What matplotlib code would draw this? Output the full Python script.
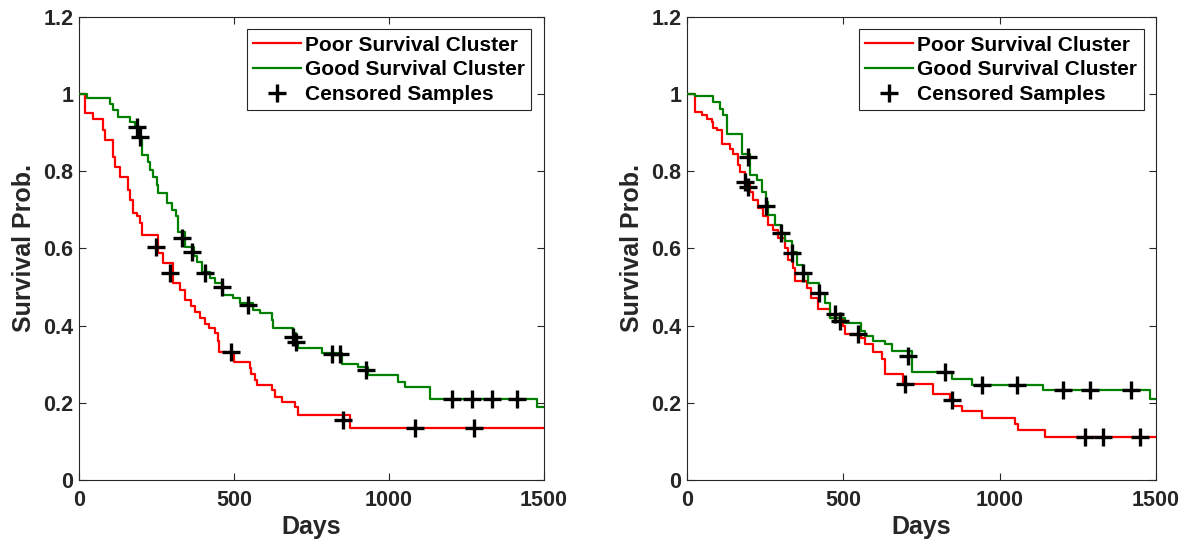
import matplotlib
matplotlib.use("Agg")
import matplotlib.pyplot as plt
from matplotlib.lines import Line2D

plt.rcParams['font.family'] = ['Liberation Sans', 'DejaVu Sans']
plt.rcParams['font.weight'] = 'bold'

# ---- left panel ----
left_poor_t = [0, 19, 46, 78, 84, 109, 116, 132, 159, 165, 175, 186, 197, 202, 256, 271, 304, 326, 342,
               360, 375, 390, 405, 420, 439, 449, 452, 500, 552, 556, 568, 575, 621, 632, 654, 697, 707, 874, 1500]
left_poor_s = [1.0, 0.95, 0.935, 0.907, 0.881, 0.838, 0.812, 0.786, 0.752, 0.726, 0.691, 0.683, 0.665, 0.635,
               0.588, 0.562, 0.51, 0.492, 0.467, 0.45, 0.435, 0.42, 0.405, 0.393, 0.38, 0.359, 0.333, 0.307,
               0.29, 0.275, 0.259, 0.246, 0.233, 0.216, 0.203, 0.19, 0.168, 0.135, 0.135]
left_good_t = [0, 25, 100, 111, 127, 165, 181, 190, 197, 202, 224, 229, 240, 251, 256, 284, 300, 312, 320,
               342, 372, 380, 396, 423, 440, 466, 498, 519, 562, 584, 621, 627, 690, 700, 707, 783, 847, 901,
               933, 1030, 1052, 1132, 1477, 1500]
left_good_s = [1.0, 0.99, 0.975, 0.96, 0.942, 0.929, 0.92, 0.907, 0.886, 0.842, 0.825, 0.804, 0.786, 0.765,
               0.743, 0.717, 0.70, 0.683, 0.644, 0.605, 0.58, 0.566, 0.54, 0.523, 0.51, 0.48, 0.471, 0.458,
               0.441, 0.432, 0.415, 0.393, 0.381, 0.355, 0.341, 0.328, 0.301, 0.294, 0.272, 0.255, 0.242,
               0.21, 0.19, 0.19]
left_cens_t = [248, 294, 489, 852, 1084, 1274,
               186, 197, 331, 363, 406, 460, 546, 690, 700, 815, 842, 926, 1202, 1267, 1331, 1414]
left_cens_s = [0.605, 0.537, 0.333, 0.155, 0.135, 0.135,
               0.915, 0.889, 0.626, 0.592, 0.536, 0.501, 0.454, 0.371, 0.358, 0.326, 0.326, 0.285,
               0.21, 0.21, 0.21, 0.21]

# ---- right panel ----
right_poor_t = [0, 26, 47, 63, 79, 84, 95, 111, 137, 148, 164, 169, 185, 201, 212, 228, 244, 260, 276, 292,
                313, 324, 340, 345, 383, 398, 420, 457, 500, 505, 558, 569, 595, 622, 633, 690, 787, 840,
                852, 878, 942, 1048, 1059, 1144, 1500]
right_poor_s = [1.0, 0.954, 0.945, 0.936, 0.928, 0.911, 0.906, 0.872, 0.859, 0.846, 0.816, 0.799, 0.773,
                0.747, 0.726, 0.704, 0.683, 0.661, 0.649, 0.627, 0.601, 0.571, 0.55, 0.515, 0.498, 0.472,
                0.442, 0.421, 0.399, 0.378, 0.369, 0.352, 0.331, 0.314, 0.275, 0.249, 0.223, 0.208, 0.193,
                0.178, 0.161, 0.144, 0.129, 0.112, 0.112]
right_good_t = [0, 26, 84, 105, 116, 127, 175, 201, 223, 239, 251, 260, 281, 300, 313, 335, 351, 370, 388,
                423, 440, 457, 505, 558, 569, 595, 633, 654, 718, 846, 910, 1139, 1482, 1500]
right_good_s = [1.0, 0.995, 0.979, 0.962, 0.945, 0.898, 0.846, 0.79, 0.778, 0.747, 0.72, 0.687, 0.662,
                0.64, 0.619, 0.59, 0.558, 0.537, 0.511, 0.484, 0.46, 0.421, 0.408, 0.387, 0.374, 0.361,
                0.352, 0.335, 0.279, 0.262, 0.247, 0.234, 0.21, 0.21]
right_cens_t = [185, 195, 489, 697, 846, 1272, 1330, 1448,
                196, 252, 300, 335, 370, 423, 473, 547, 707, 825, 942, 1054, 1203, 1290, 1421]
right_cens_s = [0.773, 0.76, 0.412, 0.249, 0.208, 0.112, 0.112, 0.112,
                0.838, 0.711, 0.64, 0.588, 0.537, 0.484, 0.43, 0.378, 0.322, 0.279, 0.247, 0.247,
                0.234, 0.234, 0.234]

yticks = [0, 0.2, 0.4, 0.6, 0.8, 1.0, 1.2]
ytick_labels = ['0', '0.2', '0.4', '0.6', '0.8', '1', '1.2']
xticks = [0, 500, 1000, 1500]

RED = '#ff0000'
GREEN = '#008000'
AXC = '#262626'

fig = plt.figure(figsize=(11.94, 5.5), dpi=100)
ax1 = fig.add_axes([0.0662, 0.1273, 0.3894, 0.8418])
ax2 = fig.add_axes([0.5754, 0.1273, 0.3928, 0.8418])


def draw_panel(ax, poor_t, poor_s, good_t, good_s, cens_t, cens_s):
    ax.step(poor_t, poor_s, where='post', color=RED, lw=1.6, zorder=3)
    ax.step(good_t, good_s, where='post', color=GREEN, lw=1.6, zorder=3)
    ax.plot(cens_t, cens_s, ls='none', marker='+', color='black', ms=13, mew=2.4, zorder=4)
    ax.set_xlim(0, 1500)
    ax.set_ylim(0, 1.2)
    ax.set_xticks(xticks)
    ax.set_xticklabels([str(x) for x in xticks])
    ax.set_yticks(yticks)
    ax.set_yticklabels(ytick_labels)
    ax.tick_params(direction='in', top=True, right=True, length=5, width=0.8,
                   color=AXC, labelcolor=AXC, labelsize=15.5)
    ax.tick_params(axis='x', pad=7)
    ax.tick_params(axis='y', pad=4)
    for sp in ax.spines.values():
        sp.set_color(AXC)
        sp.set_linewidth(0.8)
    ax.set_xlabel('Days', fontsize=18, fontweight='bold', color=AXC, labelpad=3)
    ax.set_ylabel('Survival Prob.', fontsize=18, fontweight='bold', color=AXC, labelpad=5)

    handles = [Line2D([], [], color=RED, lw=1.6),
               Line2D([], [], color=GREEN, lw=1.6),
               Line2D([], [], ls='none', marker='+', color='black', ms=13, mew=2.4)]
    labels = ['Poor Survival Cluster', 'Good Survival Cluster', 'Censored Samples']
    leg = ax.legend(handles, labels, loc='upper right', fancybox=False, framealpha=1,
                    edgecolor=AXC, prop={'size': 15, 'weight': 'bold'},
                    borderaxespad=0.6, handlelength=2.3, handletextpad=0.2,
                    labelspacing=0.27, borderpad=0.3)
    leg.get_frame().set_linewidth(0.8)


draw_panel(ax1, left_poor_t, left_poor_s, left_good_t, left_good_s, left_cens_t, left_cens_s)
draw_panel(ax2, right_poor_t, right_poor_s, right_good_t, right_good_s, right_cens_t, right_cens_s)

fig.savefig('out.png', dpi=100)
